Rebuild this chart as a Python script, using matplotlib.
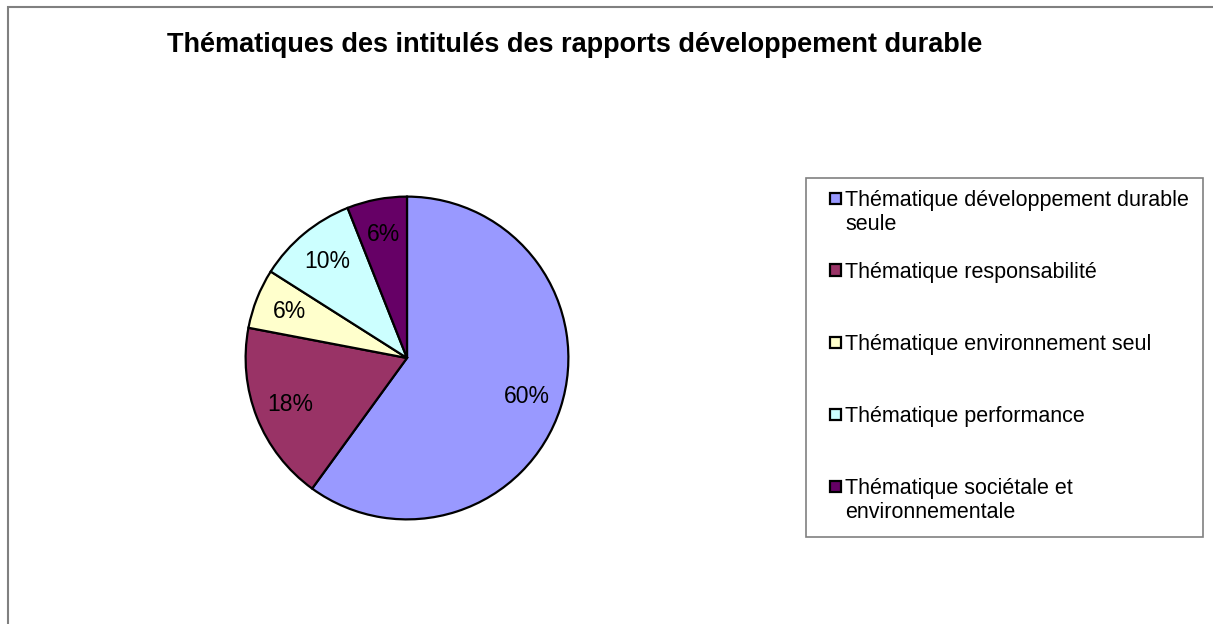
import matplotlib
matplotlib.use("Agg")
import matplotlib.pyplot as plt
from matplotlib.patches import Rectangle

plt.rcParams['font.family'] = ['Liberation Sans', 'DejaVu Sans']

title = "Thématiques des intitulés des rapports développement durable"
categories = [
    "Thématique développement durable\nseule",
    "Thématique responsabilité",
    "Thématique environnement seul",
    "Thématique performance",
    "Thématique sociétale et\nenvironnementale",
]
values = [30, 9, 3, 5, 3]
colors = ["#9999FF", "#993366", "#FFFFCC", "#CCFFFF", "#660066"]

W, H = 1213, 624
fig = plt.figure(figsize=(W / 100, H / 100), dpi=100)
fig.patch.set_facecolor("white")

# outer chart frame
fig.patches.append(Rectangle((8 / W, -0.05), 1.1, (H - 7) / H + 0.05, transform=fig.transFigure,
                             fill=False, edgecolor="#808080", linewidth=1.5))

fig.text(575 / W, 1 - 45 / H, title, ha="center", va="center", fontsize=19.5, fontweight="bold")

# pie
cx, cy, r = 407, 358, 163
ax = fig.add_axes([(cx - r) / W, (H - cy - r) / H, 2 * r / W, 2 * r / H])
ax.pie(values, colors=colors, startangle=90, counterclock=False,
       autopct=lambda p: f"{p:.0f}%", pctdistance=0.78,
       wedgeprops=dict(edgecolor="black", linewidth=1.6),
       textprops=dict(fontsize=16.5, color="black"))
ax.set_xlim(-1.01, 1.01)
ax.set_ylim(-1.01, 1.01)
ax.set_aspect("equal")
ax.axis("off")

# legend
lx0, ly0, lx1, ly1 = 806, 178, 1203, 537
fig.patches.append(Rectangle((lx0 / W, 1 - ly1 / H), (lx1 - lx0) / W, (ly1 - ly0) / H,
                             transform=fig.transFigure, fill=True, facecolor="white",
                             edgecolor="#808080", linewidth=1.2))
ys = [198, 270, 342, 414, 486]
for lab, col, y in zip(categories, colors, ys):
    s = 11
    fig.patches.append(Rectangle((829.5 / W, 1 - (y + s / 2) / H), s / W, s / H,
                                 transform=fig.transFigure, facecolor=col,
                                 edgecolor="black", linewidth=1.6))
    fig.text(845 / W, 1 - (y - 8) / H, lab, ha="left", va="top", fontsize=15.5,
             linespacing=1.2)

fig.savefig("out.png", dpi=100, facecolor="white")
